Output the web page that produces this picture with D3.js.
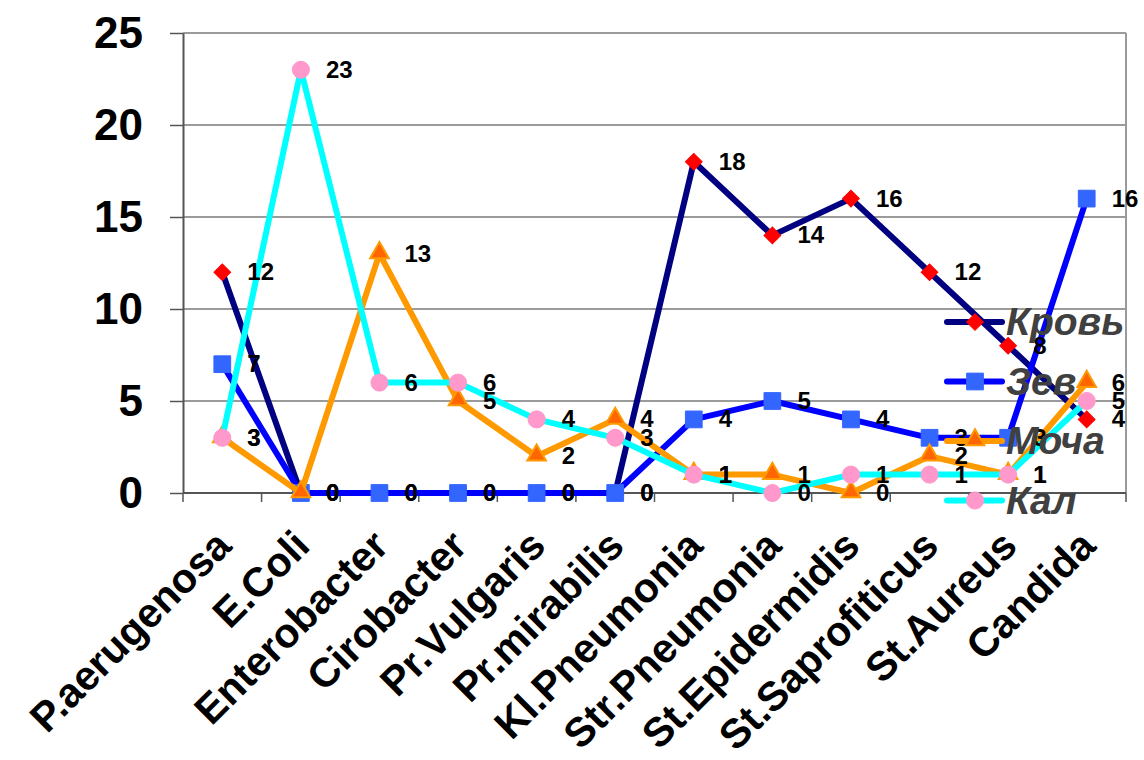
<!DOCTYPE html>
<html>
<head>
<meta charset="utf-8">
<script src="https://cdn.jsdelivr.net/npm/d3@7"></script>
<style>
  html, body { margin: 0; padding: 0; background: #fff; }
  svg { display: block; font-family: Arial, "Liberation Sans", sans-serif; }
</style>
</head>
<body>
<svg id="chart" width="1144" height="760"></svg>
<script>
// Microorganisms isolated, by specimen type
const categories = ["P.aerugenosa", "E.Coli", "Enterobacter", "Cirobacter", "Pr.Vulgaris",
  "Pr.mirabilis", "Kl.Pneumonia", "Str.Pneumonia", "St.Epidermidis", "St.Saprofiticus",
  "St.Aureus", "Candida"];
const seriesNames = ["Кровь", "Зев", "Моча", "Кал"];
const blood  = [12, 0, 0, 0, 0, 0, 18, 14, 16, 12, 8, 4];
const throat = [7, 0, 0, 0, 0, 0, 4, 5, 4, 3, 3, 16];
const urine  = [3, 0, 13, 5, 2, 4, 1, 1, 0, 2, 1, 6];
const stool  = [3, 23, 6, 6, 4, 3, 1, 0, 1, 1, 1, 5];
const yTicks = [0, 5, 10, 15, 20, 25];

const styles = [
  { line: "#000080", marker: "diamond",  fill: "#FF0000", stroke: "#FF0000" },
  { line: "#0000FF", marker: "square",   fill: "#3366FF", stroke: "#3366FF" },
  { line: "#FF9900", marker: "triangle", fill: "#FF6600", stroke: "#FF9900" },
  { line: "#00FFFF", marker: "circle",   fill: "#FF99CC", stroke: "#FF99CC" }
];
const series = [blood, throat, urine, stool].map((values, i) => ({
  name: seriesNames[i], values, style: styles[i]
}));

const svg = d3.select("#chart");
const plot = { left: 183, right: 1126, top: 33, bottom: 493 };

const x = d3.scaleBand().domain(categories).range([plot.left, plot.right]).padding(0);
const cx = c => x(c) + x.bandwidth() / 2;
const y = d3.scaleLinear().domain([0, 25]).range([plot.bottom, plot.top]);

// horizontal gridlines
svg.append("g").selectAll("line").data(yTicks.filter(t => t > 0)).join("line")
  .attr("x1", plot.left).attr("x2", plot.right)
  .attr("y1", d => y(d)).attr("y2", d => y(d))
  .attr("stroke", "#7a7a7a").attr("stroke-width", 1.5);

// right border of plot area
svg.append("line")
  .attr("x1", plot.right).attr("x2", plot.right)
  .attr("y1", plot.top).attr("y2", plot.bottom)
  .attr("stroke", "#9a9a9a").attr("stroke-width", 2);

// y axis
const yAxis = svg.append("g").attr("transform", `translate(${plot.left},0)`)
  .call(d3.axisLeft(y).tickValues(yTicks).tickSize(13).tickPadding(27).tickSizeOuter(0));
yAxis.select(".domain").attr("stroke", "#555").attr("stroke-width", 2);
yAxis.selectAll(".tick line").attr("stroke", "#555").attr("stroke-width", 1.5);
yAxis.selectAll(".tick text")
  .attr("font-size", 44).attr("font-weight", "bold").attr("fill", "#000")
  .attr("font-family", "Arial, 'Liberation Sans', sans-serif");

// x axis: ticks sit on category boundaries
const xAxis = svg.append("g").attr("transform", `translate(0,${plot.bottom})`);
xAxis.append("line").attr("x1", plot.left).attr("x2", plot.right)
  .attr("y1", 0).attr("y2", 0).attr("stroke", "#555").attr("stroke-width", 2);
const boundaries = categories.map(c => x(c)).concat([plot.right]);
xAxis.selectAll("line.tk").data(boundaries).join("line").attr("class", "tk")
  .attr("x1", d => d).attr("x2", d => d).attr("y1", 0).attr("y2", 9)
  .attr("stroke", "#555").attr("stroke-width", 1.5);
xAxis.selectAll("text").data(categories).join("text")
  .attr("transform", d => `translate(${cx(d) + 11},${55}) rotate(-45)`)
  .attr("text-anchor", "end")
  .attr("font-size", 41).attr("font-weight", "bold").attr("fill", "#000")
  .text(d => d);

// series lines and markers
const line = d3.line().x((d, i) => cx(categories[i])).y(d => y(d));
const symbolOf = {
  diamond:  d3.symbol().type(d3.symbolSquare).size(140),
  square:   d3.symbol().type(d3.symbolSquare).size(280),
  triangle: d3.symbol().type(d3.symbolTriangle).size(150),
  circle:   d3.symbol().type(d3.symbolCircle).size(230)
};
function drawMarker(sel, st) {
  sel.append("path")
    .attr("d", symbolOf[st.marker]())
    .attr("transform", st.marker === "diamond" ? "rotate(45)" :
      (st.marker === "triangle" ? "translate(0,-1)" : null))
    .attr("fill", st.fill).attr("stroke", st.stroke)
    .attr("stroke-width", st.marker === "triangle" ? 2 : 1);
}

const gSeries = svg.append("g");
series.forEach(s => {
  const g = gSeries.append("g");
  g.append("path").datum(s.values).attr("d", line)
    .attr("fill", "none").attr("stroke", s.style.line)
    .attr("stroke-width", 6).attr("stroke-linejoin", "round");
  g.selectAll("g.m").data(s.values).join("g").attr("class", "m")
    .attr("transform", (d, i) => `translate(${cx(categories[i])},${y(d)})`)
    .each(function () { drawMarker(d3.select(this), s.style); });
});

// value labels
const gLabels = svg.append("g");
series.forEach(s => {
  gLabels.selectAll(null).data(s.values).join("text")
    .attr("x", (d, i) => cx(categories[i]) + 25)
    .attr("y", d => y(d) + 8)
    .attr("font-size", 24).attr("font-weight", "bold").attr("fill", "#000")
    .text(d => d);
});

// legend
const legend = svg.append("g").attr("transform", "translate(947,322)");
series.forEach((s, i) => {
  const row = legend.append("g").attr("transform", `translate(0,${i * 59.5})`);
  row.append("line").attr("x1", 0).attr("x2", 55).attr("y1", 0).attr("y2", 0)
    .attr("stroke", s.style.line).attr("stroke-width", 6).attr("stroke-linecap", "round");
  const m = row.append("g").attr("transform", "translate(28,0)");
  drawMarker(m, s.style);
  row.append("text").attr("x", 59).attr("y", 13)
    .attr("font-size", 39).attr("font-weight", "bold").attr("font-style", "italic")
    .attr("fill", "#404040").text(s.name);
});
</script>
</body>
</html>
